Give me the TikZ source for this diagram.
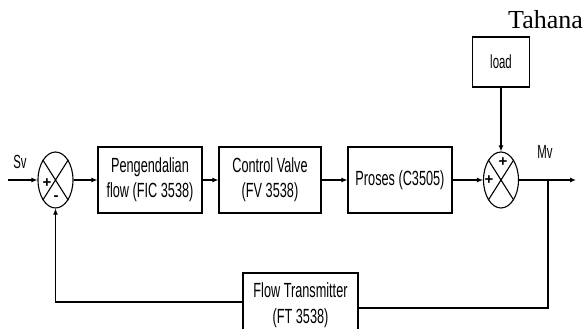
\documentclass[tikz,border=0pt]{standalone}
\usepackage{fontspec}
\setmainfont{Liberation Serif}
\newfontfamily\boxfont{Liberation Sans}[FakeStretch=0.62]
\newfontfamily\lblfont{Liberation Sans}[FakeStretch=0.6]
\newfontfamily\signfont{Liberation Sans}
\usetikzlibrary{shapes.geometric,arrows.meta}
\begin{document}
\begin{tikzpicture}[x=1pt,y=-1pt,
 blk/.style={draw,line width=1.1pt,inner sep=0pt,align=center,font=\boxfont\fontsize{20.5}{25}\selectfont},
 sumnode/.style={draw,ellipse,line width=1.1pt,minimum width=35pt,minimum height=56pt,inner sep=0pt},
 sig/.style={draw,line width=1.1pt,-{Latex[length=6pt,width=5pt]}},
 wire/.style={draw,line width=1.1pt},
 lbl/.style={font=\lblfont\fontsize{19}{20}\selectfont,inner sep=0pt},
 sign/.style={font=\signfont\bfseries\fontsize{15}{15}\selectfont,inner sep=0pt}]
\clip (0,0) rectangle (587,329);
% blocks
\node[sumnode] (s1) at (55.5,180) {};
\node[blk,minimum width=104pt,minimum height=66pt] (b1) at (150,180) {Pengendalian\\flow (FIC 3538)};
\node[blk,minimum width=102pt,minimum height=66pt] (b2) at (270,180) {Control Valve\\(FV 3538)};
\node[blk,minimum width=104pt,minimum height=66pt] (b3) at (400,180) {Proses (C3505)};
\node[sumnode] (s2) at (501,180) {};
\node[blk,minimum width=57pt,minimum height=50pt,font=\lblfont\fontsize{19}{20}\selectfont] (ld) at (501,62) {load};
\node[blk,minimum width=115pt,minimum height=64pt,font=\boxfont\fontsize{20.5}{26}\selectfont] (ft) at (300.5,305) {Flow Transmitter\\(FT 3538)};
% crosses in summing junctions
\draw[wire] (s1.north west) -- (s1.south east) (s1.north east) -- (s1.south west);
\draw[wire] (s2.north west) -- (s2.south east) (s2.north east) -- (s2.south west);
% signs
\node[sign] (p1) at (47,183) {+};
\node[sign] (m1) at (56,198) {-};
\node[sign] (p2) at (489,180) {+};
\node[sign] (p3) at (503,162) {+};
% labels
\node[anchor=base west,inner sep=0pt,font=\fontsize{26}{30}\selectfont] (th) at (508,29) {Tahana};
\node[lbl] (sv) at (20,162) {Sv};
\node[lbl] (mv) at (545,152) {Mv};
% connectors
\coordinate (in) at (8,180);
\coordinate (out) at (576,180);
\coordinate (br) at (548,180);
\draw[sig] (in) -- (s1.west);
\draw[sig] (s1.east) -- (b1.west);
\draw[sig] (b1.east) -- (b2.west);
\draw[sig] (b2.east) -- (b3.west);
\draw[sig] (b3.east) -- (s2.west);
\draw[sig] (ld.south) -- (s2.north);
\draw[sig] (s2.east) -- (out);
\draw[wire] (br) |- ([yshift=-3pt]ft.east);
\draw[sig] ([yshift=3pt]ft.west) -| (s1.south);
\end{tikzpicture}
\end{document}
